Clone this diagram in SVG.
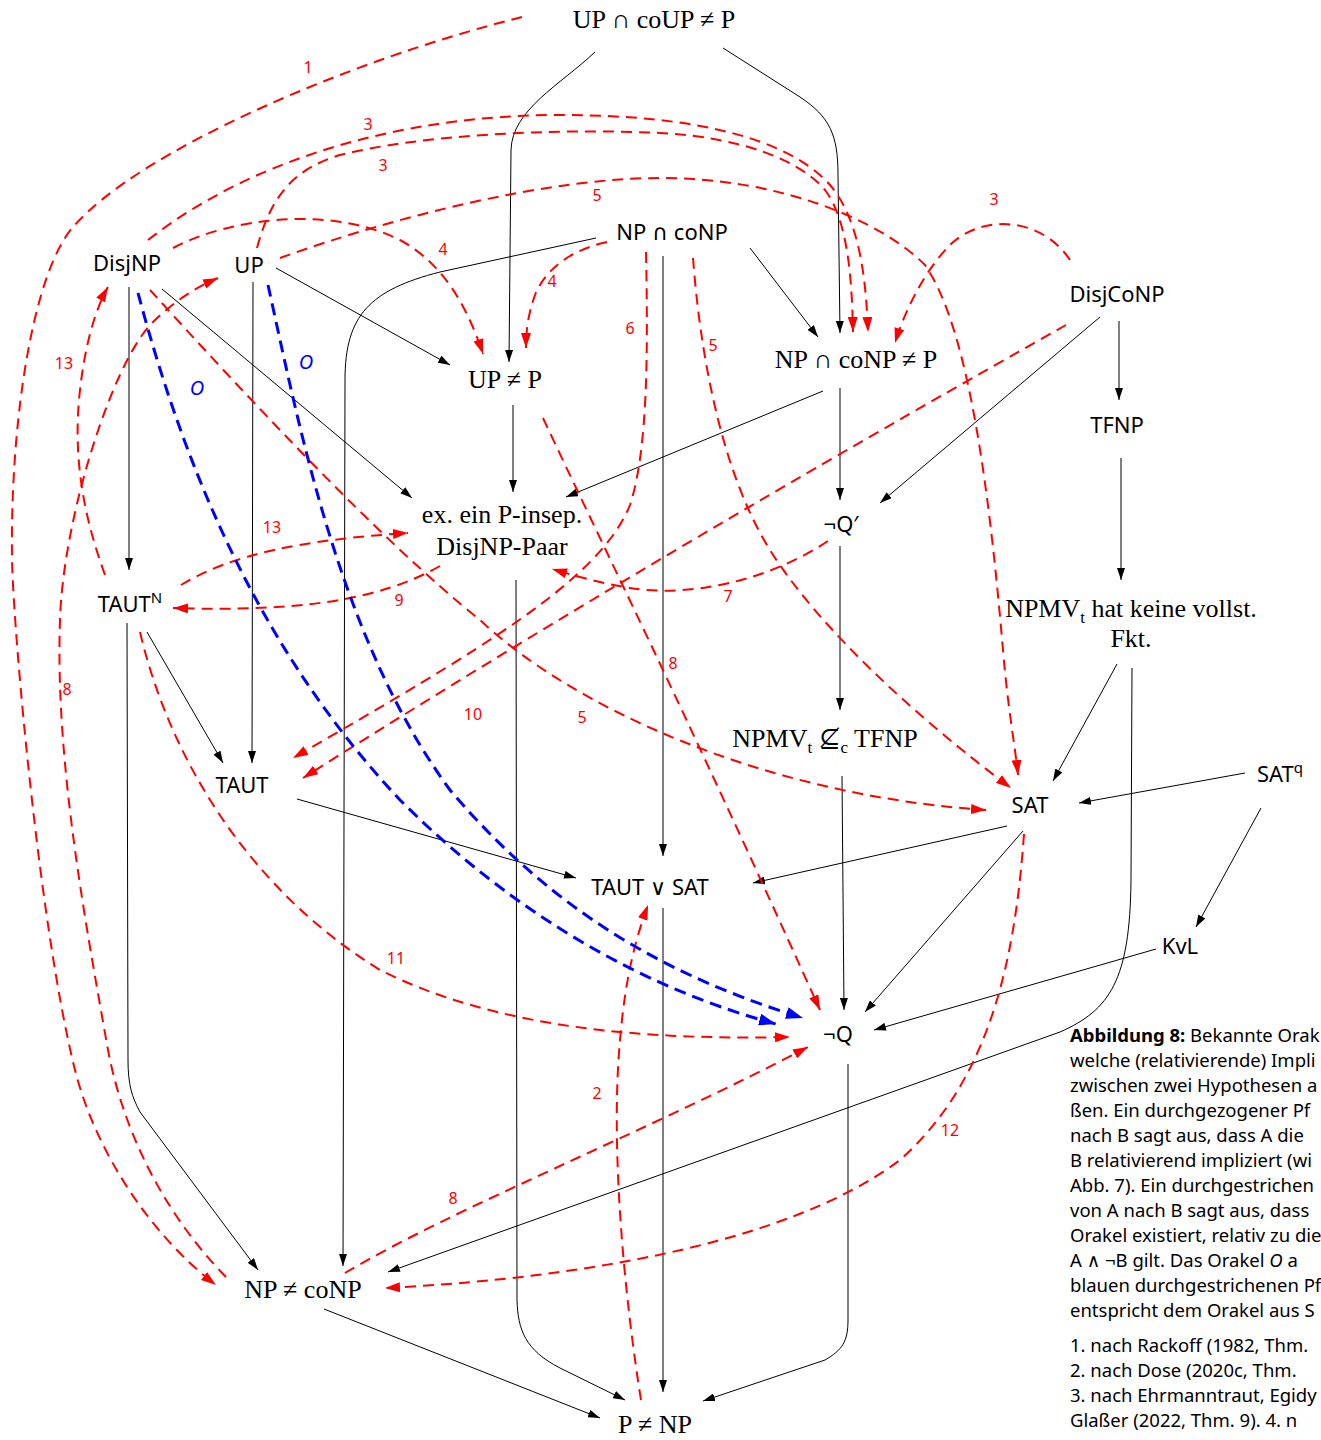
<svg xmlns="http://www.w3.org/2000/svg" width="1321" height="1440" viewBox="0 0 1321 1440">
<style>
.n{font-family:"Noto Sans","DejaVu Sans",sans-serif;font-size:22px;fill:#000;text-anchor:middle}
.s{font-family:"Liberation Serif","DejaVu Serif",serif;font-size:26px;fill:#000;text-anchor:middle}
.k{fill:none;stroke:#000;stroke-width:1}
.r{fill:none;stroke:#f00;stroke-width:2;stroke-dasharray:11 7}
.b{fill:none;stroke:#00f;stroke-width:3;stroke-dasharray:12 7}
.rl{font-family:"Noto Sans","DejaVu Sans",sans-serif;font-size:16px;fill:#f00;text-anchor:middle}
.bl{font-family:"Noto Sans","DejaVu Sans",sans-serif;font-size:20px;fill:#00f;font-style:italic;text-anchor:middle}
.cap{font-family:"Noto Sans","DejaVu Sans",sans-serif;font-size:18.5px;fill:#000}
</style>
<defs>
<marker id="ak" viewBox="0 0 12 8" refX="12" refY="4" markerWidth="12" markerHeight="8" markerUnits="userSpaceOnUse" orient="auto"><path d="M0,0L12,4L0,8Z" fill="#000"/></marker>
<marker id="ar" viewBox="0 0 15 10" refX="15" refY="5" markerWidth="15" markerHeight="10" markerUnits="userSpaceOnUse" orient="auto"><path d="M0,0L15,5L0,10Z" fill="#f00"/></marker>
<marker id="ab" viewBox="0 0 17 12" refX="17" refY="6" markerWidth="17" markerHeight="12" markerUnits="userSpaceOnUse" orient="auto"><path d="M0,0L17,6L0,12Z" fill="#00f"/></marker>
</defs>
<rect width="1321" height="1440" fill="#fff"/>

<g id="connectors">
<g marker-end="url(#ak)">
<path class="k" d="M595,52 C560,85 512,110 511,150 L509,362"/>
<path class="k" d="M723,48 L800,97 C830,117 838,135 838,175 L840,333"/>
<path class="k" d="M750,248 L818,337"/>
<path class="k" d="M663,256 L663,856"/>
<path class="k" d="M596,238 L440,272 C370,290 345,315 345,380 L343,1266"/>
<path class="k" d="M840,388 L840,500"/>
<path class="k" d="M823,391 L566,497"/>
<path class="k" d="M1119,321 L1119,400"/>
<path class="k" d="M1100,317 L880,503"/>
<path class="k" d="M1121,458 L1121,580"/>
<path class="k" d="M840,546 L840,710"/>
<path class="k" d="M1117,664 L1053,781"/>
<path class="k" d="M1132,668 L1131,880 C1130,980 1110,1010 1060,1032 L388,1272"/>
<path class="k" d="M147,632 L223,763"/>
<path class="k" d="M127,623 L128,1060 C128,1085 132,1097 140,1112 L258,1270"/>
<path class="k" d="M297,799 L576,878"/>
<path class="k" d="M516,580 L517,1300 C518,1330 525,1350 560,1368 L625,1400"/>
<path class="k" d="M513,405 L513,492"/>
<path class="k" d="M663,908 L663,1392"/>
<path class="k" d="M1007,826 L753,883"/>
<path class="k" d="M1023,831 L865,1012"/>
<path class="k" d="M1245,773 L1079,803"/>
<path class="k" d="M1261,808 L1196,927"/>
<path class="k" d="M1156,949 L874,1030"/>
<path class="k" d="M842,776 L844,1010"/>
<path class="k" d="M848,1064 L848,1320 C848,1342 842,1350 825,1360 L703,1401"/>
<path class="k" d="M324,1309 L600,1418"/>
<path class="k" d="M129,287 L129,570"/>
<path class="k" d="M162,289 L412,498"/>
<path class="k" d="M276,268 L450,365"/>
<path class="k" d="M253,282 L252,763"/>
</g>
<g marker-end="url(#ar)">
<path class="r" d="M522,17 C350,60 140,150 73,227 C33,273 10,420 12,560 C14,640 40,930 75,1070 C95,1150 150,1235 216,1285"/>
<path class="r" d="M226,1277 C170,1220 125,1140 108,1050 C85,920 55,760 60,620 C63,520 110,370 150,325 C175,300 195,288 218,278"/>
<path class="r" d="M105,575 C85,520 72,460 80,390 C85,345 95,310 108,287"/>
<path class="r" d="M181,585 C230,555 300,540 408,533"/>
<path class="r" d="M440,566 C380,600 300,612 173,608"/>
<path class="r" d="M173,248 C230,218 330,205 400,240 C440,262 465,300 483,354"/>
<path class="r" d="M607,242 C570,250 545,270 535,295 C528,315 526,330 526,348"/>
<path class="r" d="M148,240 C250,160 400,115 560,115 C700,115 790,140 830,185 C860,220 866,280 868,332"/>
<path class="r" d="M257,248 C270,200 290,170 340,155 C420,135 550,128 660,133 C740,137 800,160 825,190 C848,220 852,280 853,332"/>
<path class="r" d="M1070,260 C1040,215 980,215 950,245 C925,270 905,310 895,343"/>
<path class="r" d="M280,258 C400,215 550,178 660,178 C780,178 880,220 925,265 C970,330 990,500 1003,650 C1008,710 1015,745 1018,775"/>
<path class="r" d="M693,258 C700,350 720,470 770,550 C820,630 920,720 1011,788"/>
<path class="r" d="M150,290 C250,400 380,540 480,620 C570,705 760,795 986,810"/>
<path class="r" d="M646,252 C648,350 648,450 630,505 C600,580 480,650 293,758"/>
<path class="r" d="M1066,325 C880,430 600,590 303,778"/>
<path class="r" d="M828,541 C770,580 690,598 630,588 C600,583 575,576 552,569"/>
<path class="r" d="M543,418 C600,540 680,700 820,1010"/>
<path class="r" d="M345,1273 C450,1210 650,1130 808,1047"/>
<path class="r" d="M641,1400 C625,1300 610,1150 620,1040 C625,980 635,940 648,905"/>
<path class="r" d="M140,632 C170,760 250,890 380,970 C500,1030 650,1040 790,1037"/>
<path class="r" d="M1024,834 C1015,960 990,1080 900,1160 C780,1250 550,1280 385,1288"/>
</g>
<g marker-end="url(#ab)">
<path class="b" d="M138,293 C180,450 250,640 400,800 C520,920 650,990 776,1024"/>
<path class="b" d="M268,285 C300,430 340,640 450,790 C560,920 680,980 803,1018"/>
</g>
<g id="edge-labels">
<text class="rl" x="308" y="73">1</text>
<text class="rl" x="368" y="130">3</text>
<text class="rl" x="383" y="171">3</text>
<text class="rl" x="994" y="205">3</text>
<text class="rl" x="443" y="255">4</text>
<text class="rl" x="552" y="287">4</text>
<text class="rl" x="597" y="201">5</text>
<text class="rl" x="713" y="351">5</text>
<text class="rl" x="582" y="723">5</text>
<text class="rl" x="630" y="334">6</text>
<text class="rl" x="728" y="602">7</text>
<text class="rl" x="67" y="695">8</text>
<text class="rl" x="673" y="669">8</text>
<text class="rl" x="453" y="1204">8</text>
<text class="rl" x="399" y="606">9</text>
<text class="rl" x="473" y="720">10</text>
<text class="rl" x="396" y="964">11</text>
<text class="rl" x="950" y="1136">12</text>
<text class="rl" x="64" y="369">13</text>
<text class="rl" x="272" y="533">13</text>
<text class="rl" x="597" y="1099">2</text>
<text class="bl" x="197" y="395">O</text>
<text class="bl" x="306" y="369">O</text>
</g>
</g>

<g id="n-upcoup"><text class="s" x="654" y="28">UP ∩ coUP ≠ P</text></g>
<g id="n-disjnp"><text class="n" x="127" y="271">DisjNP</text></g>
<g id="n-up"><text class="n" x="249" y="273">UP</text></g>
<g id="n-npconp"><text class="n" x="672" y="240">NP ∩ coNP</text></g>
<g id="n-disjconp"><text class="n" x="1117" y="302">DisjCoNP</text></g>
<g id="n-upnep"><text class="s" x="505" y="388">UP ≠ P</text></g>
<g id="n-npconpnep"><text class="s" x="856" y="368">NP ∩ coNP ≠ P</text></g>
<g id="n-tfnp"><text class="n" x="1117" y="433">TFNP</text></g>
<g id="n-pinsep"><text class="s" x="502" y="523">ex. ein P-insep.</text><text class="s" x="502" y="555">DisjNP-Paar</text></g>
<g id="n-notqprime"><text class="n" x="841" y="532">¬Q′</text></g>
<g id="n-tautn"><text class="n" x="130" y="612">TAUT<tspan font-size="15" dy="-9">N</tspan></text></g>
<g id="n-npmvfkt"><text class="s" x="1131" y="617">NPMV<tspan font-size="17" dy="6">t</tspan><tspan dy="-6"> hat keine vollst.</tspan></text><text class="s" x="1131" y="647">Fkt.</text></g>
<g id="n-npmvtfnp"><text class="s" x="825" y="747">NPMV<tspan font-size="17" dy="6">t</tspan><tspan dy="-6"> ⊈</tspan><tspan font-size="17" dy="6">c</tspan><tspan dy="-6"> TFNP</tspan></text></g>
<g id="n-taut"><text class="n" x="242" y="793">TAUT</text></g>
<g id="n-sat"><text class="n" x="1030" y="813">SAT</text></g>
<g id="n-satq"><text class="n" x="1280" y="782">SAT<tspan font-size="15" dy="-9">q</tspan></text></g>
<g id="n-tautsat"><text class="n" x="650" y="895">TAUT ∨ SAT</text></g>
<g id="n-kvl"><text class="n" x="1180" y="954">KvL</text></g>
<g id="n-notq"><text class="n" x="838" y="1042">¬Q</text></g>
<g id="n-npneconp"><text class="s" x="303" y="1298">NP ≠ coNP</text></g>
<g id="n-pnenp"><text class="s" x="655" y="1433">P ≠ NP</text></g>

<g id="caption">
<text class="cap" x="1070" y="1042"><tspan font-weight="bold">Abbildung 8:</tspan> Bekannte Orak</text>
<text class="cap" x="1070" y="1067">welche (relativierende) Impli</text>
<text class="cap" x="1070" y="1092">zwischen zwei Hypothesen a</text>
<text class="cap" x="1070" y="1117">ßen. Ein durchgezogener Pf</text>
<text class="cap" x="1070" y="1142">nach B sagt aus, dass A die</text>
<text class="cap" x="1070" y="1167">B relativierend impliziert (wi</text>
<text class="cap" x="1070" y="1192">Abb. 7). Ein durchgestrichen</text>
<text class="cap" x="1070" y="1217">von A nach B sagt aus, dass</text>
<text class="cap" x="1070" y="1242">Orakel existiert, relativ zu die</text>
<text class="cap" x="1070" y="1267">A ∧ ¬B gilt. Das Orakel <tspan font-style="italic">O</tspan> a</text>
<text class="cap" x="1070" y="1292">blauen durchgestrichenen Pf</text>
<text class="cap" x="1070" y="1317">entspricht dem Orakel aus S</text>
<text class="cap" x="1070" y="1352">1. nach Rackoff (1982, Thm.</text>
<text class="cap" x="1070" y="1377">2. nach Dose (2020c, Thm.</text>
<text class="cap" x="1070" y="1402">3. nach Ehrmanntraut, Egidy</text>
<text class="cap" x="1070" y="1427">Glaßer (2022, Thm. 9). 4. n</text>
</g>
</svg>
